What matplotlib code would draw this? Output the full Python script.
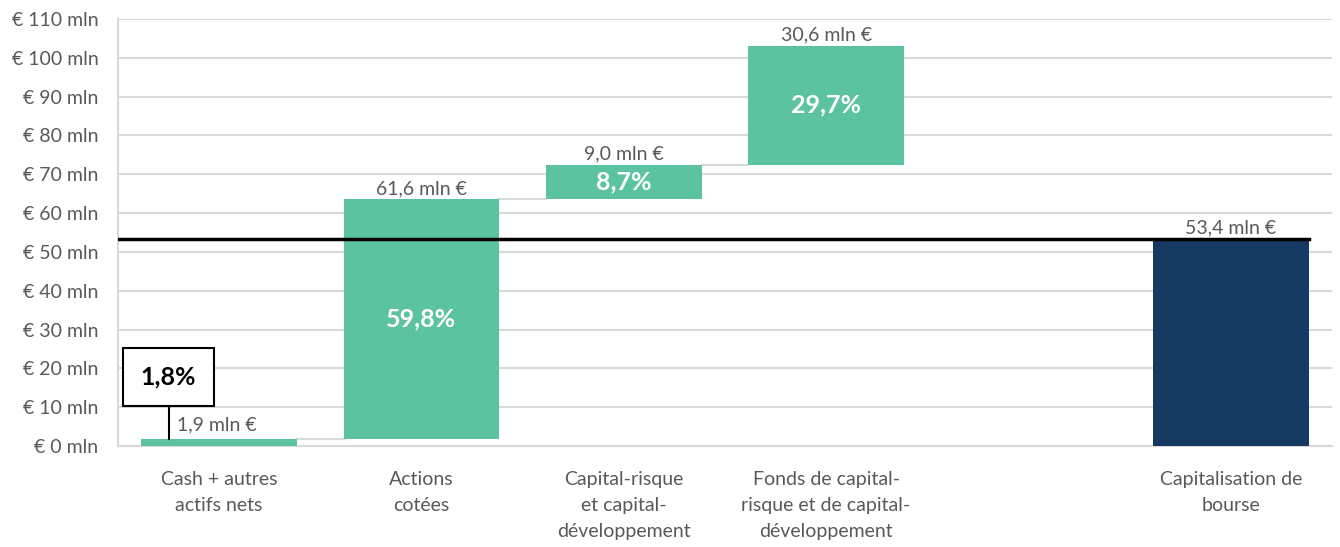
import matplotlib.pyplot as plt

# waterfall data (mln EUR)
categories = ["Cash + autres\nactifs nets", "Actions\ncotées",
              "Capital-risque\net capital-\ndéveloppement",
              "Fonds de capital-\nrisque et de capital-\ndéveloppement",
              "", "Capitalisation de\nbourse"]
steps = [1.9, 61.6, 9.0, 30.6]
step_labels = ["1,9 mln €", "61,6 mln €", "9,0 mln €", "30,6 mln €"]
shares = ["1,8%", "59,8%", "8,7%", "29,7%"]
market_cap = 53.4
market_cap_label = "53,4 mln €"
yticks = list(range(0, 111, 10))

GREEN = "#5cc3a1"
NAVY = "#163962"
GREY = "#595959"
GRID = "#d9d9d9"

plt.rcParams['font.family'] = ['Lato', 'DejaVu Sans']

fig = plt.figure(figsize=(13.4, 5.47), dpi=100)
ax = fig.add_axes([0.088, 0.1846, 0.906, 0.7808])

width = 0.77
bottoms = []
tot = 0
for v in steps:
    bottoms.append(tot)
    tot += v

for i, (v, b) in enumerate(zip(steps, bottoms)):
    ax.bar(i, v, bottom=b, width=width, color=GREEN, zorder=3)
    # connector to next bar
    if i < len(steps) - 1:
        ax.plot([i + width / 2, i + 1 - width / 2], [b + v, b + v], color=GRID, lw=1.5, zorder=2)

ax.bar(5, market_cap, width=width, color=NAVY, zorder=3)

# labels
for i, (v, b) in enumerate(zip(steps, bottoms)):
    if i == 0:
        ax.text(i - 0.21, b + v + 1.3, step_labels[i], ha='left', va='bottom', fontsize=14, color=GREY)
    else:
        ax.text(i, b + v + 0.6, step_labels[i], ha='center', va='bottom', fontsize=14, color=GREY)
        ax.text(i, b + v / 2, shares[i], ha='center', va='center', fontsize=18,
                fontweight='bold', color='white', zorder=4)

# callout for small share
ax.plot([-0.25, -0.25], [bottoms[0] + steps[0], 11.1], color='black', lw=1.5, zorder=4)
ax.text(-0.25, 17.9, shares[0], ha='center', va='center', fontsize=18, fontweight='bold',
        color='black', zorder=5,
        bbox=dict(boxstyle='square,pad=0.7', fc='white', ec='black', lw=1.5))

ax.text(5, market_cap + 0.6, market_cap_label, ha='center', va='bottom', fontsize=14, color=GREY)
ax.plot([-0.5, 5 + width / 2], [market_cap, market_cap], color='black', lw=2.5, zorder=5)

ax.set_xlim(-0.5, 5.5)
ax.set_ylim(0, 110)
ax.set_yticks(yticks)
ax.set_yticklabels([f"€ {t} mln" for t in yticks], fontsize=14, color=GREY)
ax.set_xticks(range(len(categories)))
ax.set_xticklabels(categories, fontsize=14, color=GREY, linespacing=1.65)
ax.tick_params(axis='both', length=0)
ax.tick_params(axis='x', pad=18)
ax.tick_params(axis='y', pad=14)
ax.yaxis.grid(True, color=GRID, lw=1.5, zorder=0)
ax.set_axisbelow(True)
for s in ['top', 'right']:
    ax.spines[s].set_visible(False)
for s in ['left', 'bottom']:
    ax.spines[s].set_color(GRID)
    ax.spines[s].set_linewidth(1.5)

fig.savefig("out.png", dpi=100)
